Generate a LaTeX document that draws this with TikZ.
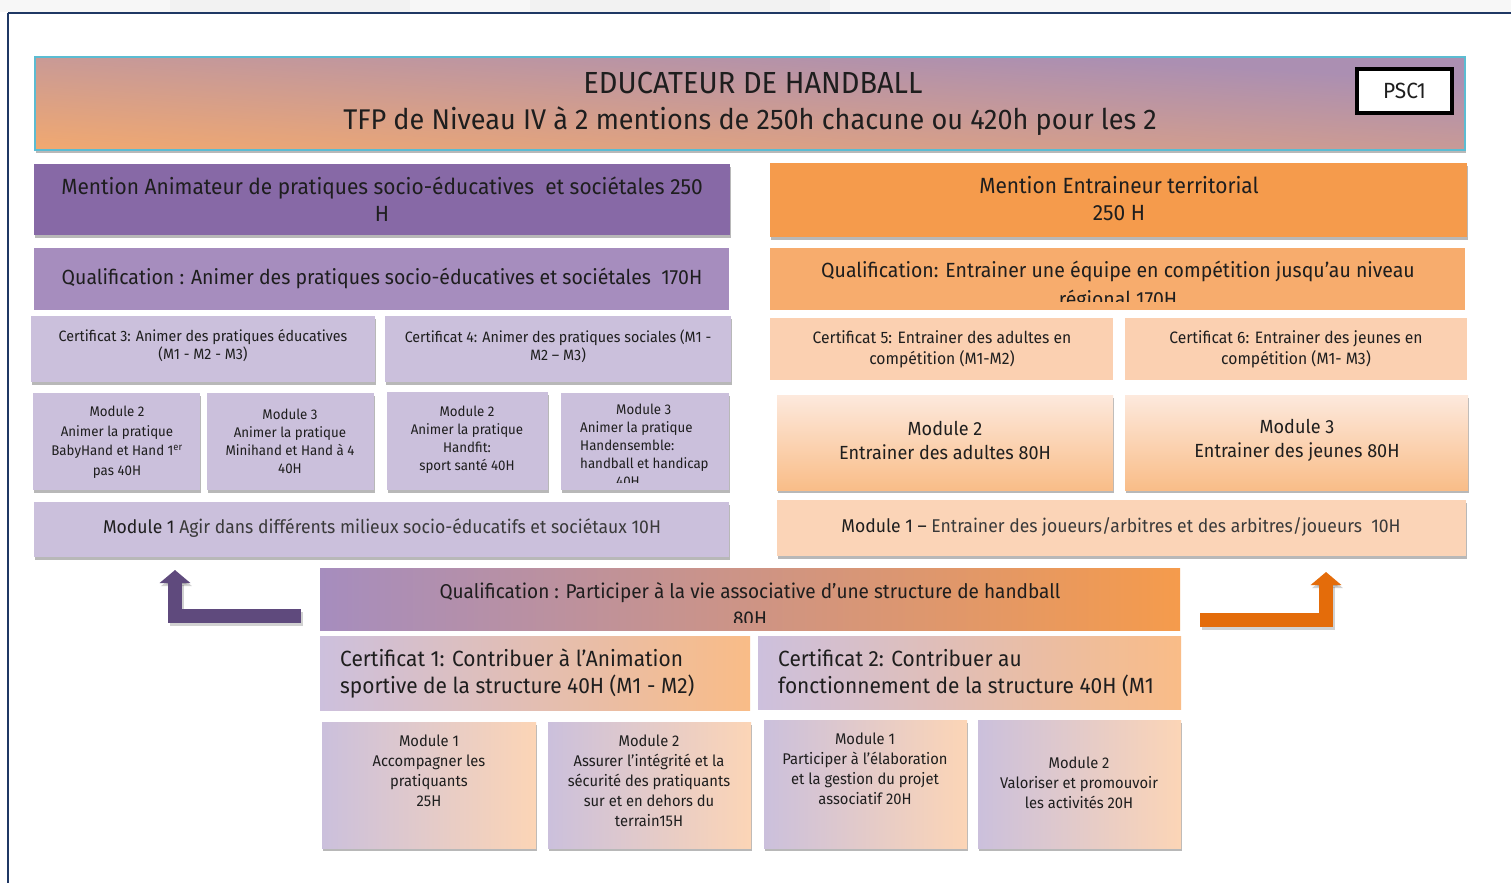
\documentclass[tikz,border=0pt]{standalone}
\usepackage{fontspec}
\setmainfont{Fira Sans}[FakeStretch=0.95]
\usetikzlibrary{shadows,arrows.meta}
\definecolor{txt}{HTML}{1E1E1E}
\definecolor{txtl}{HTML}{3A3A3A}
\definecolor{navy}{HTML}{1F3864}
\definecolor{banO}{HTML}{F5AA6C}
\definecolor{banP}{HTML}{AB8FB2}
\definecolor{banB}{HTML}{5BBCD2}
\definecolor{menL}{HTML}{8769A6}
\definecolor{menR}{HTML}{F59B4C}
\definecolor{qualL}{HTML}{A68DBE}
\definecolor{qualR}{HTML}{F7AC6D}
\definecolor{lil}{HTML}{CBC0DC}
\definecolor{pea}{HTML}{FBD0B1}
\definecolor{peaT}{HTML}{FDE9DD}
\definecolor{peaB}{HTML}{F9BD88}
\definecolor{pea2}{HTML}{FBD4B7}
\definecolor{certR}{HTML}{F9BC87}
\definecolor{lil2}{HTML}{CDC0DD}
\definecolor{bmR}{HTML}{FCD5B6}
\definecolor{arrP}{HTML}{5F4A7D}
\definecolor{arrO}{HTML}{E46C0A}
\newcommand\fsz[2]{\fontsize{#1}{#2}\selectfont}
\begin{document}
\begin{tikzpicture}[x=1pt,y=-1pt,
  bx/.style={inner sep=0pt, outer sep=0pt, anchor=north west, draw=none},
  sh/.style={drop shadow={shadow xshift=1pt, shadow yshift=-3pt, opacity=0.28, fill=black}},
  lbl/.style={text=txt, align=center, inner sep=0pt},
  lbll/.style={text=txt, align=left, inner sep=0pt, anchor=west},
  arr/.style={line width=14pt, line join=miter},
  arrshadow/.style={line width=14pt, line join=miter, draw=black, opacity=0.18}
]
\useasboundingbox (0,0) rectangle (1511,883);
\fill[white] (0,0) rectangle (1511,883);
\fill[gray!6] (0,0) rectangle (1511,12);
\fill[gray!10] (170,0) rectangle (410,12);
\fill[gray!10] (530,0) rectangle (830,12);
\draw[navy, line width=2pt] (8,13) -- (1511,13);
\draw[navy, line width=1.5pt] (8,13) -- (8,883);

% banner
\node[bx, minimum width=1430pt, minimum height=93pt, fill=banP, sh] (ban) at (35,57) {};
\begin{scope}
\clip (ban.north west) rectangle (ban.south east);
\begin{scope}[transform canvas={rotate around={-3.72:(750,103.5)}}]
\shade[top color=banP, bottom color=banO] (-60,35) rectangle (1560,205);
\end{scope}
\end{scope}
\draw[banB, line width=1.2pt] (ban.north west) rectangle (ban.south east);
\node[lbl, font=\fsz{30.5}{35}] (t1) at (753,83) {EDUCATEUR DE HANDBALL};
\node[lbl, font=\fsz{28.5}{35}] (t2) at (750,121) {TFP de Niveau IV à 2 mentions de 250h chacune ou 420h pour les 2};
\node[bx, minimum width=95pt, minimum height=44pt, fill=white, draw=black, line width=3.5pt] (psc) at (1357,69) {};
\node[lbl, font=\fsz{22}{24}] (psct) at (psc.center) {PSC1};

% mentions
\node[bx, minimum width=696pt, minimum height=71pt, fill=menL, sh] (mL) at (34,164) {};
\node[lbl, font=\fsz{22}{27}] (mLt) at (382,199) {Mention Animateur de pratiques socio-éducatives\ \ et sociétales 250\\H};
\node[bx, minimum width=697pt, minimum height=74pt, fill=menR, sh] (mR) at (770,163) {};
\node[lbl, font=\fsz{22}{27}] (mRt) at (1119,199) {Mention Entraineur territorial\\250 H};

% qualifications
\node[bx, minimum width=695pt, minimum height=62pt, fill=qualL] (qL) at (34,248) {};
\node[lbl, font=\fsz{20.5}{25}] (qLt) at (382,278) {Qualification : Animer des pratiques socio-éducatives et sociétales\ \ 170H};
\node[bx, minimum width=695pt, minimum height=62pt, fill=qualR] (qR) at (770,248) {};
\begin{scope}
\clip (770,248) rectangle (1465,301);
\node[lbl, font=\fsz{20.5}{29}] (qRt) at (1118,286) {Qualification: Entrainer une équipe en compétition jusqu’au niveau\\régional 170H};
\end{scope}

% certificats 3-6
\node[bx, minimum width=344pt, minimum height=66pt, fill=lil, sh] (c3) at (31,316) {};
\node[lbl, font=\fsz{15}{18}] (c3t) at (203,346) {Certificat 3: Animer des pratiques éducatives\\(M1 - M2 - M3)};
\node[bx, minimum width=346pt, minimum height=66pt, fill=lil, sh] (c4) at (385,316) {};
\node[lbl, font=\fsz{15}{18}] (c4t) at (558,346) {Certificat 4: Animer des pratiques sociales (M1 -\\M2 – M3)};
\node[bx, minimum width=343pt, minimum height=62pt, fill=pea] (c5) at (770,318) {};
\node[lbl, font=\fsz{16.5}{21}] (c5t) at (942,349) {Certificat 5: Entrainer des adultes en\\compétition (M1-M2)};
\node[bx, minimum width=342pt, minimum height=62pt, fill=pea] (c6) at (1125,318) {};
\node[lbl, font=\fsz{16.5}{21}] (c6t) at (1296,349) {Certificat 6: Entrainer des jeunes en\\compétition (M1- M3)};

% modules left
\node[bx, minimum width=167pt, minimum height=97pt, fill=lil, sh] (m2a) at (33,393) {};
\node[lbl, font=\fsz{14}{19.5}] (m2at) at (117,442) {Module 2\\Animer la pratique\\BabyHand et Hand 1\textsuperscript{er}\\pas 40H};
\node[bx, minimum width=167pt, minimum height=97pt, fill=lil, sh] (m3a) at (207,393) {};
\node[lbl, font=\fsz{14}{18}] (m3at) at (290,441) {Module 3\\Animer la pratique\\Minihand et Hand à 4\\40H};
\node[bx, minimum width=161pt, minimum height=98pt, fill=lil, sh] (m2b) at (387,392) {};
\node[lbl, font=\fsz{14}{18}] (m2bt) at (467,440) {Module 2\\Animer la pratique\\Handfit:\\sport santé 40H};
\node[bx, minimum width=168pt, minimum height=97pt, fill=lil, sh] (m3b) at (561,393) {};
\begin{scope}
\clip (561,393) rectangle (729,482);
\node[lbll, font=\fsz{14}{18}, anchor=north west] (m3bt) at (580,404) {\hspace*{36pt}Module 3\\Animer la pratique\\Handensemble:\\handball et handicap\\\hspace*{36pt}40H};
\end{scope}

% modules right
\node[bx, minimum width=336pt, minimum height=95pt, top color=peaT, bottom color=peaB, sh] (rm2) at (777,395) {};
\node[lbl, font=\fsz{19}{24}] (rm2t) at (945,440) {Module 2\\Entrainer des adultes 80H};
\node[bx, minimum width=343pt, minimum height=95pt, top color=peaT, bottom color=peaB, sh] (rm3) at (1125,395) {};
\node[lbl, font=\fsz{19}{24}] (rm3t) at (1297,440) {Module 3\\Entrainer des jeunes 80H};

% module 1 rows
\node[bx, minimum width=695pt, minimum height=55pt, fill=lil, sh] (m1L) at (34,502) {};
\node[lbl, font=\fsz{18.5}{24}] (m1Lt) at (382,528) {Module 1 {\color{txtl}Agir dans différents milieux socio-éducatifs et sociétaux 10H}};
\node[bx, minimum width=689pt, minimum height=56pt, fill=pea2, sh] (m1R) at (777,500) {};
\node[lbl, font=\fsz{18.5}{24}] (m1Rt) at (1121,527) {Module 1 – {\color{txtl}Entrainer des joueurs/arbitres et des arbitres/joueurs\ \ 10H}};

% bottom qualification
\node[bx, minimum width=860pt, minimum height=62pt, left color=qualL, right color=menR] (qB) at (320,568) {};
\begin{scope}
\clip (320,568) rectangle (1180,622);
\node[lbl, font=\fsz{20}{27}] (qBt) at (750,604) {Qualification : Participer à la vie associative d’une structure de handball\\80H};
\end{scope}

% certificats 1-2
\node[bx, minimum width=430pt, minimum height=74pt, left color=lil2, right color=certR] (ct1) at (320,636) {};
\node[lbll, font=\fsz{22}{27}] (ct1t) at (340,674) {Certificat 1: Contribuer à l’Animation\\sportive de la structure 40H (M1 - M2)};
\node[bx, minimum width=423pt, minimum height=73pt, left color=lil2, right color=certR] (ct2) at (758,636) {};
\node[lbll, font=\fsz{22}{27}] (ct2t) at (778,673) {Certificat 2: Contribuer au\\fonctionnement de la structure 40H (M1};

% bottom modules
\node[bx, minimum width=214pt, minimum height=126pt, left color=lil, right color=bmR, sh] (bm1) at (322,722) {};
\node[lbl, font=\fsz{15.5}{20}] (bm1t) at (429,771) {Module 1\\Accompagner les\\pratiquants\\25H};
\node[bx, minimum width=203pt, minimum height=126pt, left color=lil, right color=bmR, sh] (bm2) at (548,722) {};
\node[lbl, font=\fsz{15.5}{20}] (bm2t) at (649,781) {Module 2\\Assurer l’intégrité et la\\sécurité des pratiquants\\sur et en dehors du\\terrain15H};
\node[bx, minimum width=203pt, minimum height=128pt, left color=lil, right color=bmR, sh] (bm3) at (764,720) {};
\node[lbl, font=\fsz{15.5}{20}] (bm3t) at (865,769) {Module 1\\Participer à l’élaboration\\et la gestion du projet\\associatif 20H};
\node[bx, minimum width=203pt, minimum height=128pt, left color=lil, right color=bmR, sh] (bm4) at (978,720) {};
\node[lbl, font=\fsz{15.5}{20}] (bm4t) at (1079,783) {Module 2\\Valoriser et promouvoir\\les activités 20H};

% arrows
\coordinate (aLs) at (301,616);
\coordinate (aLc) at (175,616);
\coordinate (aLe) at (175,570);
\coordinate (aRs) at (1200,620);
\coordinate (aRc) at (1326,620);
\coordinate (aRe) at (1326,572);
\draw[arrshadow, -{Triangle[width=30pt,length=13pt]}, transform canvas={xshift=1.5pt,yshift=-3pt}] (aLs) -- (aLc) -- (aLe);
\draw[arrshadow, -{Triangle[width=30pt,length=13pt]}, transform canvas={xshift=1.5pt,yshift=-3pt}] (aRs) -- (aRc) -- (aRe);
\draw[arr, draw=arrP, -{Triangle[width=30pt,length=13pt]}] (aLs) -- (aLc) -- (aLe);
\draw[arr, draw=arrO, -{Triangle[width=30pt,length=13pt]}] (aRs) -- (aRc) -- (aRe);
\end{tikzpicture}
\end{document}
